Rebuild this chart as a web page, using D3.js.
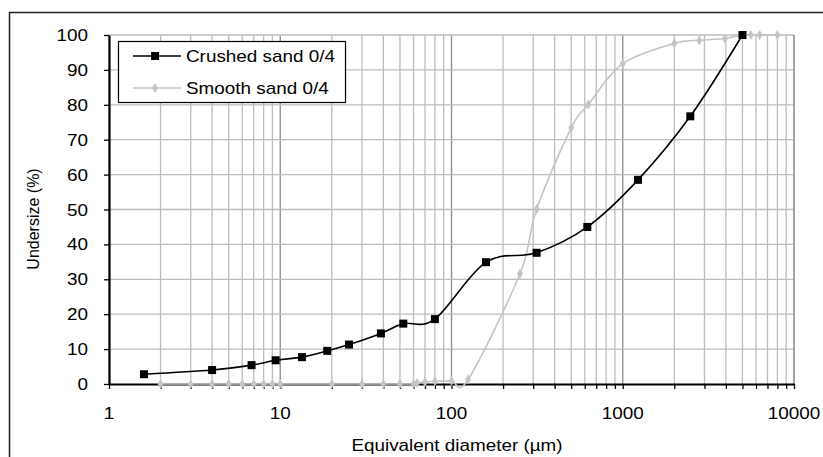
<!DOCTYPE html>
<html lang="en">
<head>
<meta charset="utf-8">
<title>Particle size distribution</title>
<script src="https://cdn.jsdelivr.net/npm/d3@7"></script>
<style>
    body { margin: 0; background: #fff; }
    text { font-family: "Liberation Sans", Arial, sans-serif; fill: #000; }
</style>
</head>
<body>
<div id="chart"></div>
<script>
// ---- data ----
var crushedD = [1.6, 4.0, 6.8, 9.4, 13.4, 18.8, 25.2, 38.7, 52.3, 80, 159, 314, 621, 1228, 2480, 5000];
var crushedV = [2.8, 4.0, 5.4, 6.8, 7.7, 9.5, 11.3, 14.5, 17.3, 18.6, 34.9, 37.6, 45.0, 58.5, 76.7, 100];

var smoothD = [2, 3, 4, 5, 6, 7, 8, 9, 10, 20, 30, 40, 50, 60, 63, 70, 80, 100, 125, 251, 314, 500, 630, 1000, 2000, 2800, 3950, 5000, 5600, 6300, 8000];
var smoothV = [0, 0, 0, 0, 0, 0, 0, 0, 0, 0, 0, 0, 0, 0, 0.3, 0.6, 0.8, 0.9, 1.3, 31.6, 50.1, 73.4, 80.1, 91.8, 97.6, 98.5, 99.0, 100, 100, 100, 100];

var xTickLabels = [1, 10, 100, 1000, 10000];
var yTickLabels = [0, 10, 20, 30, 40, 50, 60, 70, 80, 90, 100];
var seriesNames = ["Crushed sand 0/4", "Smooth sand 0/4"];

// ---- layout ----
var width = 823, height = 457;
var pLeft = 109, pRight = 794, pTop = 35, pBottom = 384;
var stretch = 1.18;   // text in the picture is a bit wide

var svg = d3.select("#chart").append("svg")
    .attr("width", width)
    .attr("height", height);

// outer frame
svg.append("rect")
    .attr("x", 9.5).attr("y", 12.5)
    .attr("width", 830).attr("height", 460)
    .attr("fill", "none").attr("stroke", "#222").attr("stroke-width", 1.5);

var x = d3.scaleLog().domain([1, 10000]).range([pLeft, pRight]);
var y = d3.scaleLinear().domain([0, 100]).range([pBottom, pTop]);

// gridlines
var g = svg.append("g");
g.selectAll("line.vg")
    .data(x.ticks())
    .enter().append("line")
    .attr("x1", function(d) { return x(d); })
    .attr("x2", function(d) { return x(d); })
    .attr("y1", pTop).attr("y2", pBottom)
    .attr("stroke", function(d) { return (d == 10 || d == 100 || d == 1000) ? "#8c8c8c" : "#bdbdbd"; })
    .attr("stroke-width", 1.3);

g.selectAll("line.hg")
    .data(yTickLabels.filter(function(d) { return d > 0; }))
    .enter().append("line")
    .attr("x1", pLeft).attr("x2", pRight)
    .attr("y1", function(d) { return y(d); })
    .attr("y2", function(d) { return y(d); })
    .attr("stroke", "#bdbdbd")
    .attr("stroke-width", 1.3);

// right edge a little darker
g.append("line")
    .attr("x1", pRight).attr("x2", pRight).attr("y1", pTop).attr("y2", pBottom)
    .attr("stroke", "#8c8c8c").attr("stroke-width", 1.3);

// axes
var xAxis = svg.append("g")
    .attr("transform", "translate(0," + pBottom + ")")
    .call(d3.axisBottom(x).tickFormat("").tickSize(5).tickSizeOuter(0));
var yAxis = svg.append("g")
    .attr("transform", "translate(" + pLeft + ",0)")
    .call(d3.axisLeft(y).tickValues(yTickLabels).tickFormat("").tickSize(5).tickSizeOuter(0));
[xAxis, yAxis].forEach(function(a) {
    a.select(".domain").attr("stroke", "#000").attr("stroke-width", 2.2);
    a.selectAll(".tick line").attr("stroke", "#000").attr("stroke-width", 1.3);
});

function label(px, py, txt, anchor) {
    svg.append("text")
        .attr("transform", "translate(" + px + "," + py + ") scale(" + stretch + ",1)")
        .attr("text-anchor", anchor)
        .style("font-size", "16px")
        .text(txt);
}

yTickLabels.forEach(function(d) { label(88, y(d) + 6, d, "end"); });
xTickLabels.forEach(function(d) { label(x(d), 419, d, "middle"); });
label(457, 451, "Equivalent diameter (µm)", "middle");

svg.append("text")
    .attr("transform", "translate(39,219) rotate(-90)")
    .attr("text-anchor", "middle")
    .style("font-size", "16px")
    .text("Undersize (%)");

// lines
var line = d3.line()
    .x(function(d) { return x(d[0]); })
    .y(function(d) { return y(d[1]); })
    .curve(d3.curveCardinal.tension(0));

var crushed = d3.zip(crushedD, crushedV);
var smooth = d3.zip(smoothD, smoothV);

svg.append("path")
    .datum(smooth)
    .attr("d", line)
    .attr("fill", "none").attr("stroke", "#c4c4c4").attr("stroke-width", 1.6);

svg.selectAll("path.dia")
    .data(smooth)
    .enter().append("path")
    .attr("d", d3.symbol(d3.symbolDiamond, 30))
    .attr("transform", function(d) { return "translate(" + x(d[0]) + "," + y(d[1]) + ")"; })
    .attr("fill", "#c4c4c4");

svg.append("path")
    .datum(crushed)
    .attr("d", line)
    .attr("fill", "none").attr("stroke", "#000").attr("stroke-width", 1.6);

svg.selectAll("rect.sq")
    .data(crushed)
    .enter().append("rect")
    .attr("x", function(d) { return x(d[0]) - 4; })
    .attr("y", function(d) { return y(d[1]) - 4; })
    .attr("width", 8).attr("height", 8)
    .attr("fill", "#000");

// legend
var leg = svg.append("g");
leg.append("rect")
    .attr("x", 118.5).attr("y", 41.5).attr("width", 227).attr("height", 61)
    .attr("fill", "#fff").attr("stroke", "#000").attr("stroke-width", 1.2);

leg.append("line").attr("x1", 133).attr("x2", 181).attr("y1", 56).attr("y2", 56)
    .attr("stroke", "#000").attr("stroke-width", 1.6);
leg.append("rect").attr("x", 151).attr("y", 52).attr("width", 8).attr("height", 8).attr("fill", "#000");
leg.append("line").attr("x1", 133).attr("x2", 181).attr("y1", 88).attr("y2", 88)
    .attr("stroke", "#c4c4c4").attr("stroke-width", 1.6);
leg.append("path").attr("d", d3.symbol(d3.symbolDiamond, 30))
    .attr("transform", "translate(155,88)").attr("fill", "#c4c4c4");

label(186, 62, seriesNames[0], "start");
label(186, 94, seriesNames[1], "start");
</script>
</body>
</html>
